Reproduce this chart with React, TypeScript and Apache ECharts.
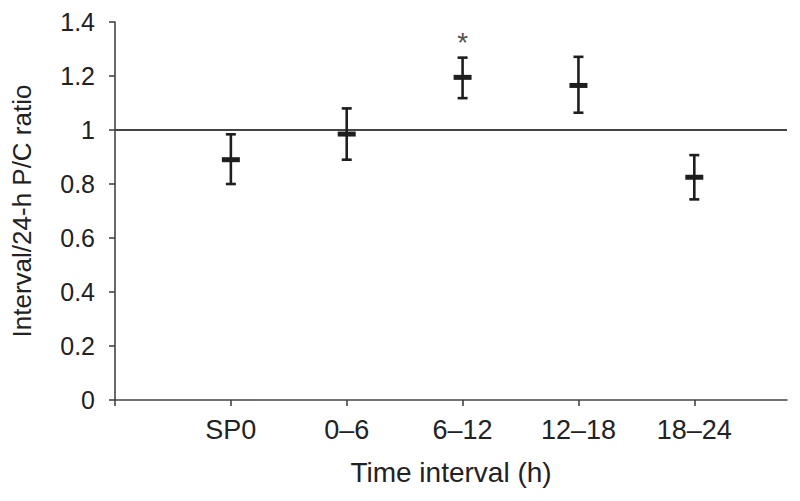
import React, { useEffect, useRef } from "react";
import * as echarts from "echarts";

const categories = ["SP0", "0–6", "6–12", "12–18", "18–24"];
const means = [0.89, 0.985, 1.195, 1.165, 0.825];
const lows = [0.8, 0.89, 1.118, 1.064, 0.743];
const highs = [0.984, 1.08, 1.268, 1.271, 0.907];
const yTicks = [0, 0.2, 0.4, 0.6, 0.8, 1, 1.2, 1.4];
const referenceValue = 1;
const significance = [{ index: 3, value: 1.325, label: "*" }];

const FONT = "'Liberation Sans', Arial, Helvetica, sans-serif";
const INK = "#222";

export default function App() {
  const ref = useRef<HTMLDivElement>(null);
  useEffect(() => {
    if (!ref.current) return;
    const chart = echarts.init(ref.current, undefined, { renderer: "svg" });
    const errData = categories.map((_, i) => [i + 1, means[i], lows[i], highs[i]]);
    chart.setOption({
      animation: false,
      backgroundColor: "#fff",
      grid: { left: 115, right: 13, top: 22, bottom: 101, containLabel: false },
      xAxis: {
        type: "value",
        min: 0,
        max: 5.8,
        interval: 1,
        name: "Time interval (h)",
        nameLocation: "middle",
        nameGap: 58,
        nameTextStyle: { fontFamily: FONT, fontSize: 28, color: INK },
        axisLine: { show: true, lineStyle: { color: "#444", width: 1.6 } },
        axisTick: {
          show: true,
          inside: false,
          length: 6,
          customValues: [0, 1, 2, 3, 4, 5],
          lineStyle: { color: "#444", width: 1.6 },
        },
        axisLabel: {
          customValues: [1, 2, 3, 4, 5],
          formatter: (v: number) => categories[Math.round(v) - 1] ?? "",
          fontFamily: FONT,
          fontSize: 27,
          color: INK,
          margin: 16,
        },
        splitLine: { show: false },
      },
      yAxis: {
        type: "value",
        min: 0,
        max: 1.4,
        interval: 0.2,
        name: "Interval/24-h P/C ratio",
        nameLocation: "middle",
        nameGap: 80,
        nameTextStyle: { fontFamily: FONT, fontSize: 26, color: INK },
        axisLine: { show: true, lineStyle: { color: "#444", width: 1.6 } },
        axisTick: {
          show: true,
          inside: false,
          length: 6,
          customValues: yTicks,
          lineStyle: { color: "#444", width: 1.6 },
        },
        axisLabel: {
          customValues: yTicks,
          fontFamily: FONT,
          fontSize: 25,
          color: INK,
          margin: 20,
        },
        splitLine: { show: false },
      },
      series: [
        {
          type: "line",
          data: [
            [0, referenceValue],
            [5.8, referenceValue],
          ],
          symbol: "none",
          lineStyle: { color: "#444", width: 1.8 },
          silent: true,
          z: 1,
        },
        {
          type: "custom",
          data: errData,
          z: 3,
          renderItem: (_params: any, api: any) => {
            const x = api.value(0);
            const c = api.coord([x, api.value(1)]);
            const lo = api.coord([x, api.value(2)]);
            const hi = api.coord([x, api.value(3)]);
            const style = { stroke: "#1e1e1e", lineWidth: 2.6 };
            return {
              type: "group",
              children: [
                { type: "line", shape: { x1: c[0], y1: lo[1], x2: c[0], y2: hi[1] }, style },
                { type: "line", shape: { x1: c[0] - 5, y1: lo[1], x2: c[0] + 5, y2: lo[1] }, style },
                { type: "line", shape: { x1: c[0] - 5, y1: hi[1], x2: c[0] + 5, y2: hi[1] }, style },
                {
                  type: "rect",
                  shape: { x: c[0] - 9, y: c[1] - 2.5, width: 18, height: 5 },
                  style: { fill: "#1e1e1e" },
                },
              ],
            };
          },
        },
        {
          type: "scatter",
          data: significance.map((s) => [s.index, s.value]),
          symbolSize: 0,
          silent: true,
          label: {
            show: true,
            position: "inside",
            formatter: (p: any) => significance[p.dataIndex].label,
            fontFamily: FONT,
            fontSize: 28,
            color: INK,
          },
        },
      ],
    });
    return () => chart.dispose();
  }, []);
  return <div ref={ref} style={{ width: 800, height: 501, position: "absolute", left: 0, top: 0 }} />;
}
